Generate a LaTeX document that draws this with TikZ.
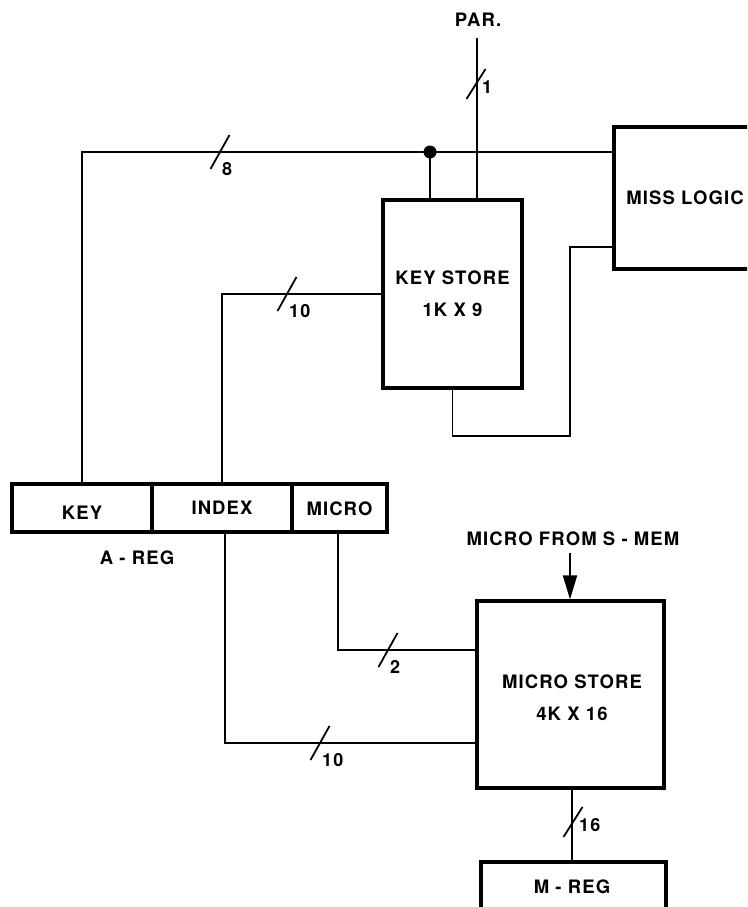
\documentclass[tikz,border=0pt]{standalone}
\usepackage{fontspec}
\setmainfont{TeX Gyre Heros}[LetterSpace=6]
\usetikzlibrary{calc,arrows.meta}
\begin{document}
\begin{tikzpicture}[x=1pt,y=-1pt,
  box/.style={draw,line width=3.2pt,inner sep=0pt},
  wire/.style={line width=1.8pt},
  txt/.style={font=\bfseries\fontsize{18.5}{32}\selectfont,inner sep=0pt,align=center},
  lbl/.style={font=\bfseries\fontsize{18}{18}\selectfont,inner sep=0pt},
  hbus/.pic={\draw[line width=1.8pt] (-9.5,17)--(9.5,-17);
             \node[lbl,anchor=west] (-hl) at (2,17) {#1};},
  vbus/.pic={\draw[line width=1.8pt] (-9.5,15)--(9.5,-15);
             \node[lbl,anchor=west] (-vl) at (6,3) {#1};}
]
\useasboundingbox (0,0) rectangle (747,907);
\clip (0,0) rectangle (747,907);

% boxes
\node[box,minimum width=139,minimum height=188] (ks) at (452.5,294) {};
\node[txt] (kst) at (452.5,294) {KEY STORE\\1K X 9};
\node[box,minimum width=220,minimum height=142] (miss) at (724,198) {};
\node[txt] (misst) at (685,198) {MISS LOGIC};
\node[box,minimum width=187,minimum height=187] (ms) at (570.5,694.5) {};
\node[txt] (mst) at (572,698) {MICRO STORE\\4K X 16};
\node[box,minimum width=185,minimum height=100] (mreg) at (573.5,912) {};
\node[txt] (mregt) at (572,887) {M - REG};

% A-REG
\node[box,minimum width=140,minimum height=48] (akey) at (82,508) {};
\node[box,minimum width=140,minimum height=48] (aidx) at (222,508) {};
\node[box,minimum width=95,minimum height=48] (amic) at (339.5,508) {};
\node[txt] (akeyt) at (82,513) {KEY};
\node[txt] (aidxt) at (222,508) {INDEX};
\node[txt] (amict) at (339.5,509) {MICRO};
\node[txt] (aregt) at (137,558) {A - REG};

% texts
\node[txt] (part) at (478,20) {PAR.};
\node[txt] (smemt) at (573,539) {MICRO FROM S - MEM};

% coordinates
\coordinate (dot) at (430,152);
\coordinate (par) at (477,38);
\coordinate (fb) at (570,436);
\coordinate (smem) at (570,553);

% connectors
\draw[wire] (akey.north) |- (dot) -- (dot -| miss.west);
\fill (dot) circle (6.5);
\draw[wire] (dot) -- (dot |- ks.north);
\draw[wire] (par) -- (par |- ks.north);
\draw[wire] (aidx.north) |- (ks.west);
\draw[wire] (ks.south) |- (fb) |- ([yshift=-49pt]miss.west);
\draw[wire] (amic.south -| 338,0) |- ([yshift=44.5pt]ms.west);
\draw[wire] (aidx.south -| 225,0) |- ([yshift=-48.5pt]ms.west);
\draw[wire,-{Triangle[length=24pt,width=14pt]}] (smem) -- (smem |- ms.north);
\draw[wire] (ms.south -| 572,0) -- (mreg.north -| 572,0);

% bus width marks
\pic at (220,152) {hbus=8};
\pic at (287,294) {hbus=10};
\pic at (388,650) {hbus=2};
\pic at (320,743) {hbus=10};
\pic at (476,84) {vbus=1};
\pic at (573,822) {vbus=16};
\end{tikzpicture}
\end{document}
